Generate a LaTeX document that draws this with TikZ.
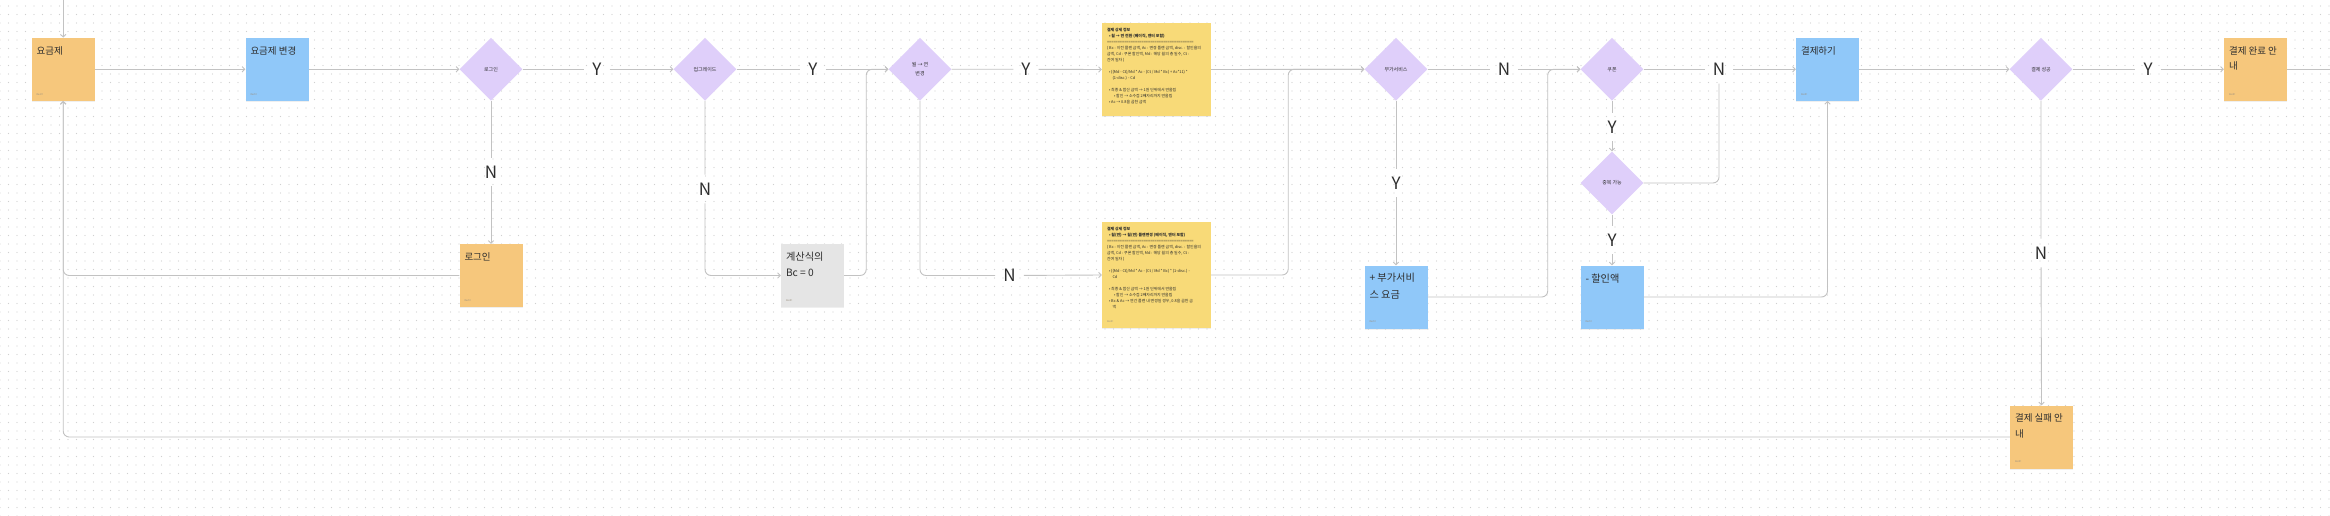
\documentclass[tikz,border=0pt]{standalone}
\usepackage{fontspec}
\setmainfont{Noto Sans CJK KR}
\usetikzlibrary{arrows.meta,shapes.geometric,patterns,shadows}
\definecolor{orangeS}{HTML}{F6C77C}
\definecolor{blueS}{HTML}{90C8F9}
\definecolor{purpleD}{HTML}{DFCFFA}
\definecolor{yellowS}{HTML}{F8DA78}
\definecolor{grayS}{HTML}{E5E5E5}
\definecolor{lineC}{HTML}{C2C2C2}
\definecolor{dotC}{HTML}{D0D0D0}
\definecolor{txtC}{HTML}{2E2E2E}
\definecolor{footC}{HTML}{9A9080}
\pgfdeclarepatternformonly{griddots}{\pgfqpoint{-1pt}{-1pt}}{\pgfqpoint{1pt}{1pt}}{\pgfqpoint{8.5pt}{8.5pt}}{\pgfpathcircle{\pgfqpoint{0pt}{0pt}}{0.55pt}\pgfusepath{fill}}
\begin{document}
\begin{tikzpicture}[x=1pt,y=-1pt,
  sticky/.style={rectangle, minimum width=63pt, minimum height=63pt, inner sep=0pt,
    drop shadow={opacity=0.12,shadow xshift=0pt,shadow yshift=-1.2pt}},
  dia/.style={diamond, aspect=1, fill=purpleD, minimum width=63pt, minimum height=63pt,
    inner sep=0pt, font=\fontsize{5}{8.7}\selectfont, text=txtC, align=center},
  ttl/.style={inner sep=0pt, anchor=north west, align=left, text=txtC,
    font=\fontsize{9.5}{15.3}\selectfont},
  bigttl/.style={ttl, font=\fontsize{10.2}{16.2}\selectfont},
  foot/.style={inner sep=0pt, anchor=south west, text=footC, font=\fontsize{2.4}{3}\selectfont},
  notetxt/.style={inner sep=0pt, anchor=north west, align=left, text=txtC,
    font=\fontsize{3.9}{6}\selectfont},
  yn/.style={inner sep=8pt, text=txtC, font=\fontsize{17}{17}\selectfont},
  conn/.style={draw=lineC, line width=0.9pt, rounded corners=6pt},
  arr/.style={conn, -{Straight Barb[length=2.6pt,width=5.5pt]}}
]
\fill[white] (0,0) rectangle (2330,516);
\fill[pattern=griddots, pattern color=dotC] (0,0) rectangle (2330,516);
\useasboundingbox (0,0) rectangle (2330,516);

% ---------- nodes ----------
\node[sticky, fill=orangeS] (plan) at (63.2,69.3) {};
\node[sticky, fill=blueS] (change) at (277,69.3) {};
\node[dia] (dLogin) at (491,69.3) {로그인};
\node[sticky, fill=orangeS] (loginBox) at (491,275.5) {};
\node[dia] (dUpg) at (705,69.3) {업그레이드};
\node[sticky, fill=grayS] (calc) at (812.5,275.5) {};
\node[dia] (dMY) at (920,69.3) {월 → 연\\변경};
\node[sticky, fill=yellowS, minimum width=109pt, minimum height=93pt] (note1) at (1156.5,69.5) {};
\node[sticky, fill=yellowS, minimum width=109pt, minimum height=106pt] (note2) at (1156.5,275) {};
\node[dia] (dAdd) at (1396,69.3) {부가서비스};
\node[sticky, fill=blueS] (addBox) at (1396,297) {};
\node[dia] (dCoupon) at (1612,69.3) {쿠폰};
\node[dia] (dDup) at (1612,183) {중복 가능};
\node[sticky, fill=blueS] (discBox) at (1612,297) {};
\node[sticky, fill=blueS] (pay) at (1827.5,69.3) {};
\node[dia] (dSuccess) at (2041,69.3) {결제 성공};
\node[sticky, fill=orangeS] (done) at (2255.5,69.3) {};
\node[sticky, fill=orangeS] (fail) at (2041.5,437) {};

% ---------- titles ----------
\node[ttl] (tPlan) at ([xshift=5pt,yshift=-8.5pt]plan.north west) {요금제};
\node[ttl] (tChange) at ([xshift=5pt,yshift=-8.5pt]change.north west) {요금제 변경};
\node[ttl] (tLogin) at ([xshift=5pt,yshift=-8.5pt]loginBox.north west) {로그인};
\node[bigttl] (tCalc) at ([xshift=5pt,yshift=-8pt]calc.north west) {계산식의\\Bc = 0};
\node[bigttl] (tAdd) at ([xshift=5pt,yshift=-8pt]addBox.north west) {+ 부가서비\\스 요금};
\node[bigttl] (tDisc) at ([xshift=5pt,yshift=-8pt]discBox.north west) {- 할인액};
\node[ttl] (tPay) at ([xshift=5pt,yshift=-8.5pt]pay.north west) {결제하기};
\node[ttl] (tDone) at ([xshift=5pt,yshift=-8.5pt]done.north west) {결제 완료 안\\내};
\node[ttl] (tFail) at ([xshift=5pt,yshift=-8.5pt]fail.north west) {결제 실패 안\\내};

% ---------- footers ----------
\node[foot] (fPlan) at ([xshift=5pt,yshift=5.5pt]plan.south west) {Resfit};
\node[foot] (fChange) at ([xshift=5pt,yshift=5.5pt]change.south west) {Resfit};
\node[foot] (fLogin) at ([xshift=5pt,yshift=5.5pt]loginBox.south west) {Resfit};
\node[foot] (fCalc) at ([xshift=5pt,yshift=5.5pt]calc.south west) {Resfit};
\node[foot] (fNote2) at ([xshift=5pt,yshift=5.5pt]note2.south west) {Resfit};
\node[foot] (fAdd) at ([xshift=5pt,yshift=5.5pt]addBox.south west) {Resfit};
\node[foot] (fDisc) at ([xshift=5pt,yshift=5.5pt]discBox.south west) {Resfit};
\node[foot] (fPay) at ([xshift=5pt,yshift=5.5pt]pay.south west) {Resfit};
\node[foot] (fDone) at ([xshift=5pt,yshift=5.5pt]done.south west) {Resfit};
\node[foot] (fFail) at ([xshift=5pt,yshift=5.5pt]fail.south west) {Resfit};

% ---------- note texts ----------
\node[notetxt] (n1txt) at ([xshift=5pt,yshift=-5pt]note1.north west) {%
\textbf{결제 상세 정보}\\
\hspace*{2pt}\textbf{• 월 → 연 전환 (베이직, 엔터 포함)}\\
\hbox to 88pt{\leaders\hbox{=}\hfill}\\
( Bc : 이전 플랜 금액, Ac : 변경 플랜 금액, disc. : 할인율의\\
금액, Cd : 쿠폰 할인액, Md : 해당 월의 총 일수, Ct :\\
잔여 일자 )\\[6pt]
\hspace*{2pt}• ((Md - Ct)/Md * Ac - (Ct / Md * Bc) + Ac*11) *\\
\hspace*{5.5pt}(1-disc.) - Cd\\[6pt]
\hspace*{2pt}• 최종 \& 합산 금액 → 1원 단위에서 반올림\\
\hspace*{7pt}• 할인 → 소수점 2째자리까지 반올림\\
\hspace*{2pt}• Ac → 0.8을 곱한 금액};
\node[notetxt] (n2txt) at ([xshift=5pt,yshift=-5pt]note2.north west) {%
\textbf{결제 상세 정보}\\
\hspace*{2pt}\textbf{• 월(연) → 월(연) 플랜변경 (베이직, 엔터 포함)}\\
\hbox to 88pt{\leaders\hbox{=}\hfill}\\
( Bc : 이전 플랜 금액, Ac : 변경 플랜 금액, disc. : 할인율의\\
금액, Cd : 쿠폰 할인액, Md : 해당 월의 총 일수, Ct :\\
잔여 일자 )\\[6pt]
\hspace*{2pt}• ((Md - Ct)/Md * Ac - (Ct / Md * Bc) * (1-disc.) -\\
\hspace*{5.5pt}Cd\\[6pt]
\hspace*{2pt}• 최종 \& 합산 금액 → 1원 단위에서 반올림\\
\hspace*{7pt}• 할인 → 소수점 2째자리까지 반올림\\
\hspace*{2pt}• Bc \& Ac → 연간 플랜 내 변경일 경우, 0.8을 곱한 금\\
\hspace*{5.5pt}액};

% ---------- Y/N labels ----------
\node[yn] (yL1) at (597,69.3) {Y};
\node[yn] (nL1) at (491,172) {N};
\node[yn] (yL2) at (813,69.3) {Y};
\node[yn] (nL2) at (705,189) {N};
\node[yn] (yL3) at (1026,69.3) {Y};
\node[yn] (nL3) at (1009.5,275.5) {N};
\node[yn] (yL4) at (1396,183) {Y};
\node[yn] (nL4) at (1504,69.3) {N};
\node[yn] (yL5) at (1612,127) {Y};
\node[yn] (nL5) at (1719,69.3) {N};
\node[yn] (yL6) at (1612,240) {Y};
\node[yn] (yL7) at (2148,69.3) {Y};
\node[yn] (nL7) at (2041,253) {N};

\coordinate (topIn) at (63.2,0);
\coordinate (outR) at (2330,69.3);

% ---------- connectors ----------
\draw[arr] (topIn) -- (plan.north);
\draw[arr] (plan.east) -- (change.west);
\draw[arr] (change.east) -- (dLogin.west);
\draw[arr] (dLogin.east) -- (yL1) -- (dUpg.west);
\draw[arr] (dLogin.south) -- (nL1) -- (loginBox.north);
\draw[arr] (loginBox.west) -| (plan.south);
\draw[arr] (dUpg.east) -- (yL2) -- (dMY.west);
\draw[arr] (dUpg.south) -- (nL2) |- (calc.west);
\draw[arr] (calc.east) -- ++(22,0) |- (dMY.west);
\draw[arr] (dMY.east) -- (yL3) -- (note1.west);
\draw[arr] (dMY.south) |- (nL3) -- (note2.west);
\draw[arr] (note1.east) -- (dAdd.west);
\draw[arr] (note2.east) -- ++(77,0) |- (dAdd.west);
\draw[arr] (dAdd.east) -- (nL4) -- (dCoupon.west);
\draw[arr] (dAdd.south) -- (yL4) -- (addBox.north);
\draw[arr] (addBox.east) -- ++(120,0) |- (dCoupon.west);
\draw[arr] (dCoupon.east) -- (nL5) -- (pay.west);
\draw[arr] (dCoupon.south) -- (yL5) -- (dDup.north);
\draw[conn] (dDup.east) -| (nL5);
\draw[arr] (dDup.south) -- (yL6) -- (discBox.north);
\draw[arr] (discBox.east) -| (pay.south);
\draw[arr] (pay.east) -- (dSuccess.west);
\draw[arr] (dSuccess.east) -- (yL7) -- (done.west);
\draw[conn] (done.east) -- (outR);
\draw[arr] (dSuccess.south) -- (nL7) -- (fail.north);
\draw[arr] (fail.west) -| (plan.south);
\end{tikzpicture}
\end{document}
